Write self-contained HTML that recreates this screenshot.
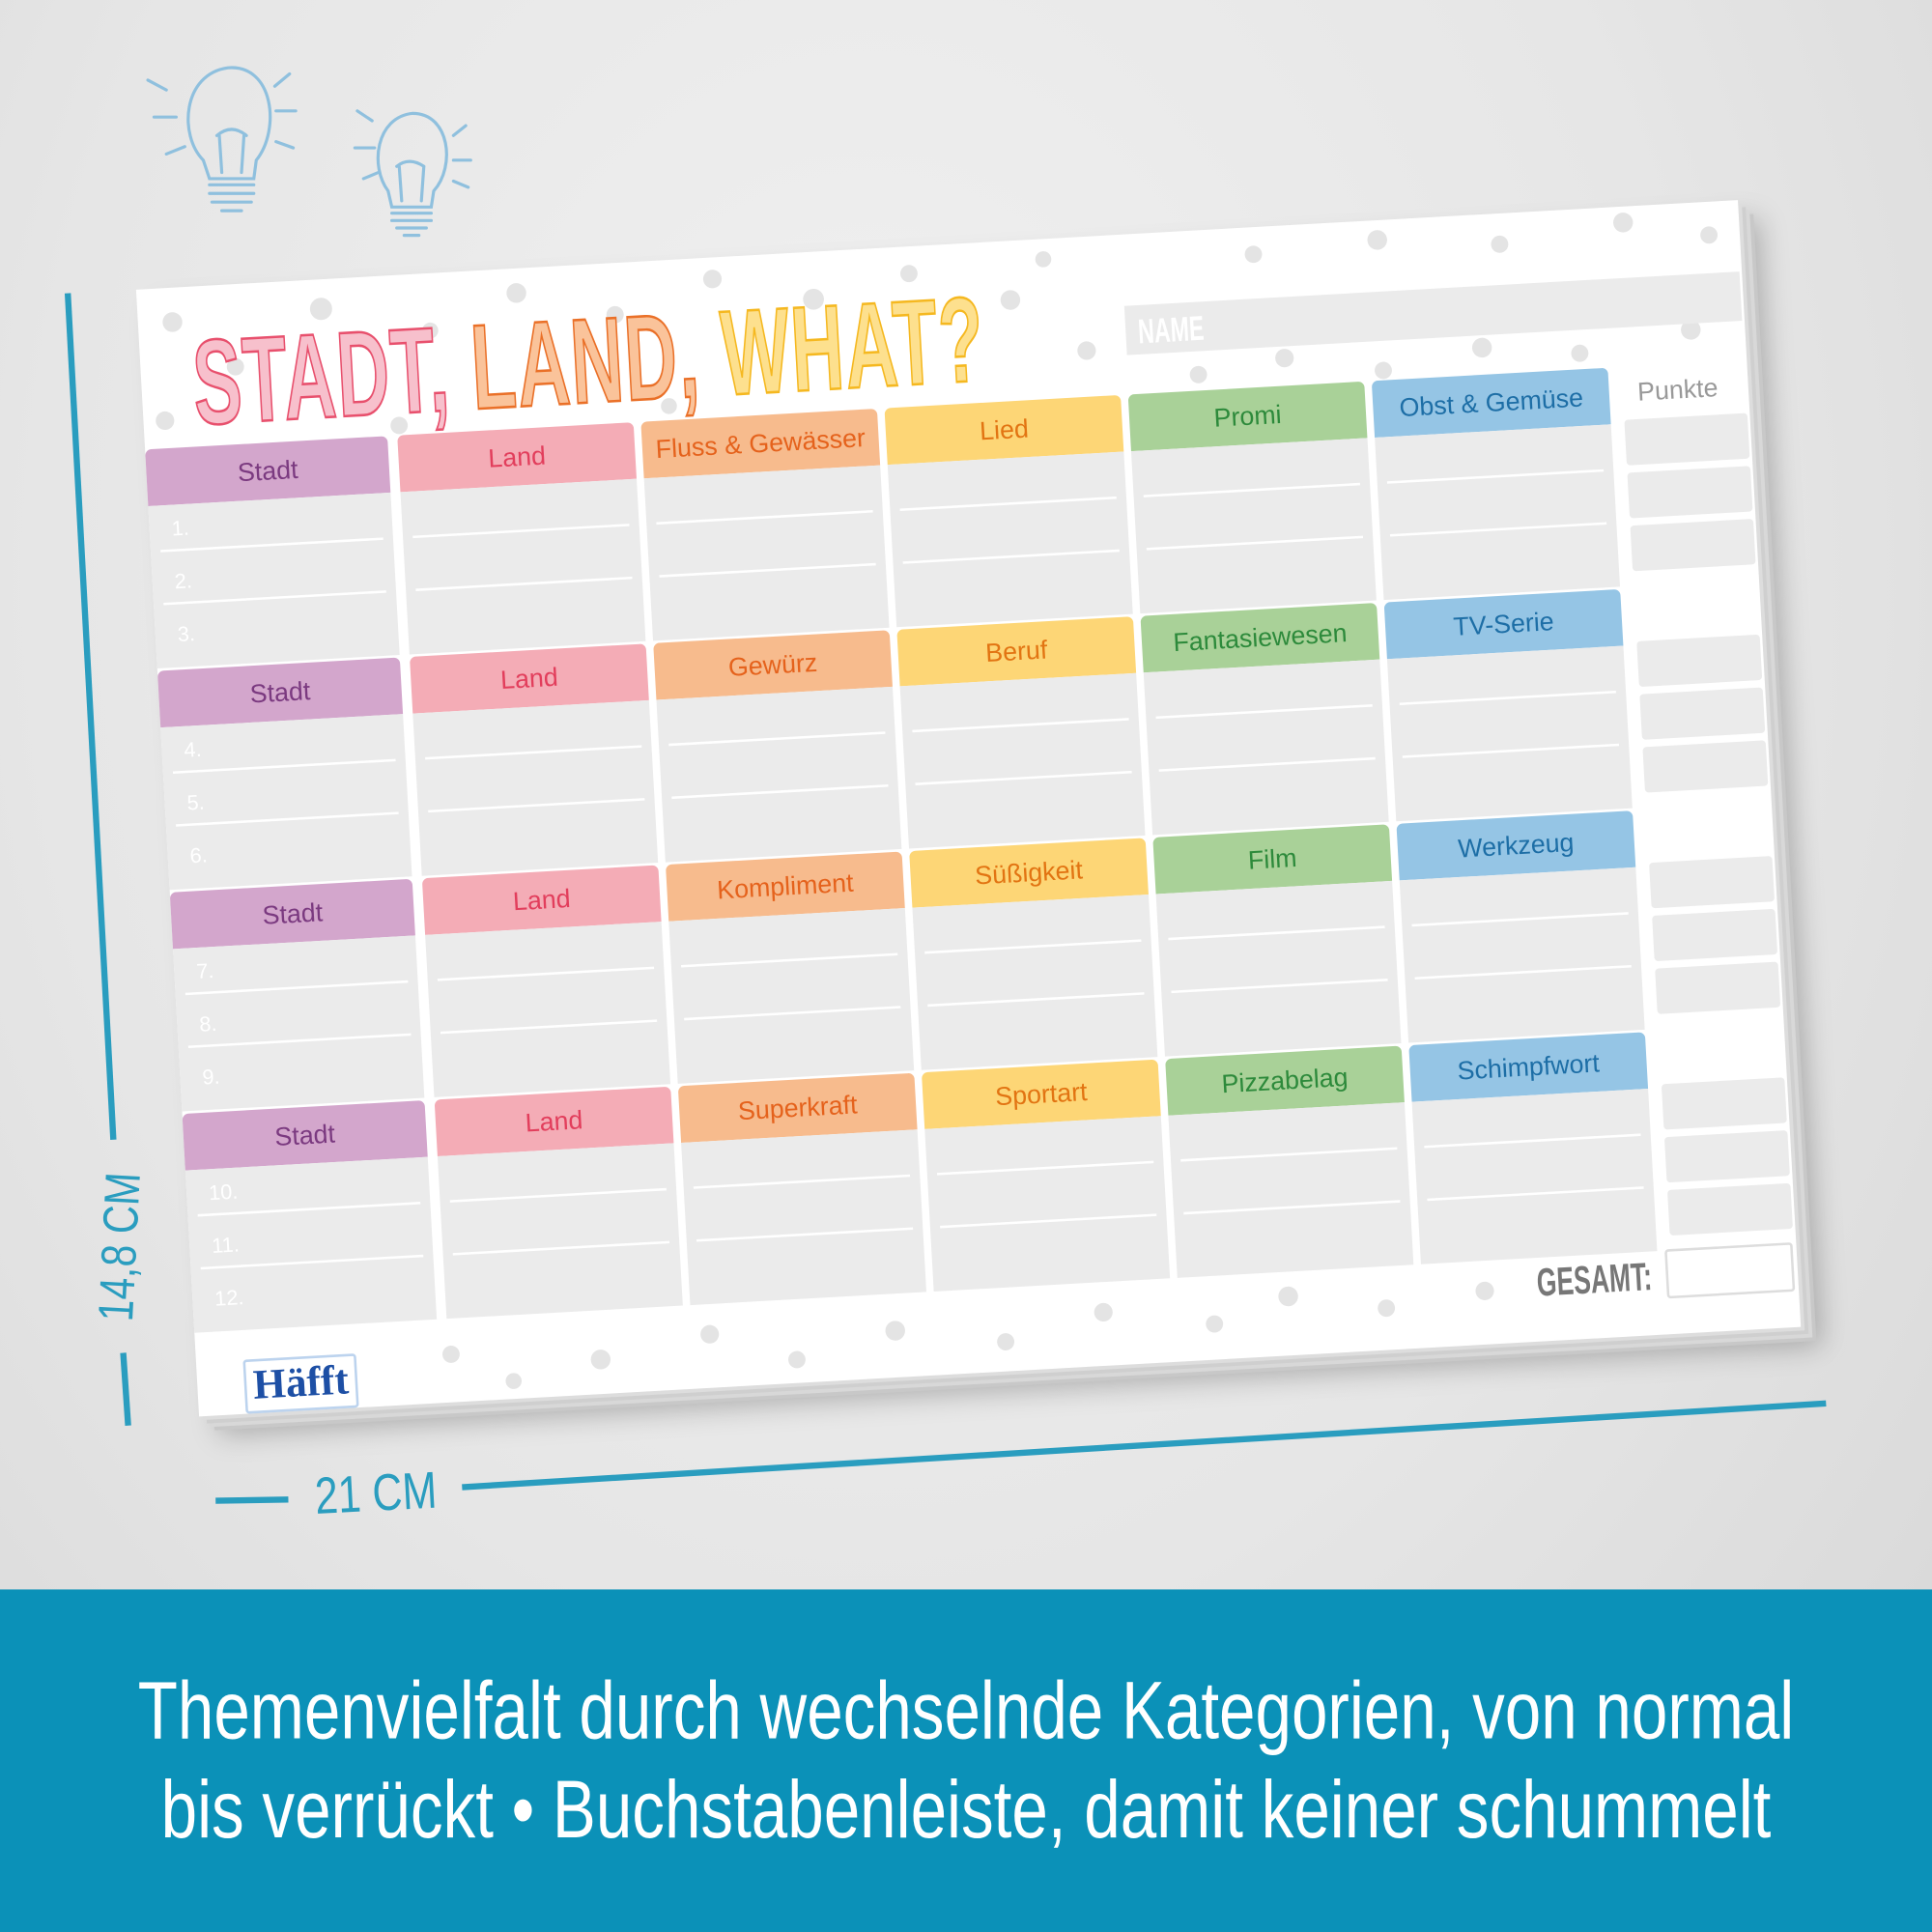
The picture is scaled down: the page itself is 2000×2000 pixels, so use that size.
<!DOCTYPE html>
<html><head><meta charset="utf-8"><style>
html,body{margin:0;padding:0;width:2000px;height:2000px;overflow:hidden;}
#root{position:absolute;left:0;top:0;width:1568px;height:1568px;transform:scale(1.27551);transform-origin:0 0;font-family:"Liberation Sans",sans-serif;
background:radial-gradient(ellipse at 45% 30%,#f1f1f1 0%,#e6e6e6 55%,#d6d6d6 100%);overflow:hidden;}
.band{position:absolute;left:0;top:1290px;width:1568px;height:278px;background:#0b91b8;}
.bt{position:absolute;left:784px;color:#fff;font-size:66px;white-space:nowrap;transform:translateX(-50%) scaleX(0.8);}
.sheet{position:absolute;left:135px;top:198px;width:1302px;height:916px;transform:rotate(-3.2deg);transform-origin:50% 50%;background:#fff;
box-shadow:3px 3px 0 #ddd,6px 6px 0 #cfcfcf,9px 9px 0 #d8d8d8,12px 12px 0 #c8c8c8,16px 16px 22px rgba(0,0,0,.25);}
.dot{position:absolute;border-radius:50%;background:#e4e4e4;}
.h{position:absolute;height:46px;border-radius:5px 5px 0 0;font-size:21px;text-align:center;line-height:48px;}
.b{position:absolute;height:132px;background:#ebebeb;}
.l{position:absolute;left:8px;right:8px;height:2px;background:#fff;}
.n{position:absolute;left:18px;font-size:17px;color:#fff;}
.p{position:absolute;width:100px;height:37px;background:#ebebeb;border-radius:3px;}
.c1{background:#d3a6cc;color:#7b3a80}.c2{background:#f4acb6;color:#e23e5c}.c3{background:#f7bb8d;color:#e5621c}
.c4{background:#fdd676;color:#e27412}.c5{background:#a9d198;color:#2d8a3b}.c6{background:#95c5e5;color:#1d6ea6}
.title{position:absolute;left:42px;top:22px;font-size:98px;font-weight:bold;white-space:nowrap;transform:scaleX(0.6);transform-origin:0 0;letter-spacing:2px;}
</style></head><body><div id="root">

<svg style="position:absolute;left:110px;top:40px" width="290" height="160" viewBox="0 0 290 160" fill="none" stroke="#8fc0de" stroke-width="2.5" stroke-linecap="round">
<path d="M55 90 C35 70,38 20,75 15 C112 12,118 65,98 90 L96 105 L60 105 Z"/><path d="M60 110h36M60 117h36M62 124h32M70 131h16"/><path d="M70 100 L68 70 M86 100 L88 70 M66 70q12-10 24 0"/>
<path d="M10 25l15 8M15 55h18M25 85l15-6M125 20l-12 10M130 50h-16M128 80l-14-5"/>
<path d="M205 115 C190 95,195 55,225 52 C255 52,260 95,242 115 L240 128 L208 128 Z"/><path d="M208 133h32M208 139h32M212 145h24M218 151h12"/><path d="M216 123 L214 95 M232 123 L234 95 M212 95q10-8 22 0"/>
<path d="M180 50l12 8M178 80h16M185 105l12-5M268 62l-10 8M272 90h-14M270 112l-12-5"/></svg>

<svg style="position:absolute;left:0;top:0" width="1568" height="1290" stroke="#2a9dbf" stroke-width="5" fill="none">
<line x1="55" y1="238" x2="92" y2="925"/><line x1="100" y1="1098" x2="104" y2="1157"/>
<line x1="175" y1="1218" x2="234" y2="1217"/><line x1="375" y1="1207" x2="1482" y2="1139"/>
</svg>
<div style="position:absolute;left:98px;top:1012px;font-size:40px;color:#2a9dbf;transform:translate(-50%,-50%) rotate(-87deg) scaleX(0.8);white-space:nowrap">14,8 CM</div>
<div style="position:absolute;left:305px;top:1212px;font-size:42px;color:#2a9dbf;transform:translate(-50%,-50%) rotate(-3deg) scaleX(0.8);white-space:nowrap">21 CM</div>

<div class="sheet">
<div class="dot" style="left:20px;top:20px;width:16px;height:16px"></div><div class="dot" style="left:70px;top:60px;width:14px;height:14px"></div>
<div class="dot" style="left:140px;top:15px;width:18px;height:18px"></div><div class="dot" style="left:230px;top:40px;width:13px;height:13px"></div>
<div class="dot" style="left:300px;top:12px;width:16px;height:16px"></div><div class="dot" style="left:380px;top:35px;width:14px;height:14px"></div>
<div class="dot" style="left:460px;top:10px;width:15px;height:15px"></div><div class="dot" style="left:540px;top:30px;width:17px;height:17px"></div>
<div class="dot" style="left:620px;top:15px;width:14px;height:14px"></div><div class="dot" style="left:700px;top:40px;width:16px;height:16px"></div>
<div class="dot" style="left:760px;top:85px;width:15px;height:15px"></div><div class="dot" style="left:730px;top:10px;width:13px;height:13px"></div>
<div class="dot" style="left:850px;top:110px;width:14px;height:14px"></div><div class="dot" style="left:920px;top:100px;width:15px;height:15px"></div>
<div class="dot" style="left:1000px;top:115px;width:14px;height:14px"></div><div class="dot" style="left:1080px;top:100px;width:16px;height:16px"></div>
<div class="dot" style="left:1160px;top:110px;width:14px;height:14px"></div><div class="dot" style="left:1250px;top:95px;width:16px;height:16px"></div>
<div class="dot" style="left:900px;top:15px;width:14px;height:14px"></div><div class="dot" style="left:1000px;top:8px;width:16px;height:16px"></div>
<div class="dot" style="left:1100px;top:18px;width:14px;height:14px"></div><div class="dot" style="left:1200px;top:5px;width:16px;height:16px"></div>
<div class="dot" style="left:1270px;top:20px;width:14px;height:14px"></div><div class="dot" style="left:10px;top:100px;width:15px;height:15px"></div>
<div class="dot" style="left:200px;top:115px;width:14px;height:14px"></div><div class="dot" style="left:420px;top:112px;width:13px;height:13px"></div>
<div class="dot" style="left:200px;top:870px;width:14px;height:14px"></div><div class="dot" style="left:320px;top:880px;width:16px;height:16px"></div>
<div class="dot" style="left:410px;top:865px;width:15px;height:15px"></div><div class="dot" style="left:480px;top:890px;width:14px;height:14px"></div>
<div class="dot" style="left:560px;top:870px;width:16px;height:16px"></div><div class="dot" style="left:650px;top:885px;width:14px;height:14px"></div>
<div class="dot" style="left:730px;top:865px;width:15px;height:15px"></div><div class="dot" style="left:820px;top:880px;width:14px;height:14px"></div>
<div class="dot" style="left:880px;top:860px;width:16px;height:16px"></div><div class="dot" style="left:960px;top:875px;width:14px;height:14px"></div>
<div class="dot" style="left:1040px;top:865px;width:15px;height:15px"></div><div class="dot" style="left:250px;top:895px;width:13px;height:13px"></div>

<div class="title"><span style="color:#f7c0cc;-webkit-text-stroke:2px #e8506d">STADT,</span> <span style="color:#fac39a;-webkit-text-stroke:2px #ea7028">LAND,</span> <span style="color:#fde08e;-webkit-text-stroke:2px #f5b820">WHAT?</span></div>
<div style="position:absolute;left:800px;top:58px;width:500px;height:40px;background:#ebebeb"><span style="position:absolute;left:10px;top:6px;color:#fff;font-size:28px;font-weight:bold;transform:scaleX(.65);transform-origin:0 0">NAME</span></div>
<div style="position:absolute;left:1212px;top:140px;color:#999;font-size:21px">Punkte</div>

<div class="h c1" style="left:0;top:130px;width:197px">Stadt</div><div class="b" style="left:0;top:176px;width:197px"><div class="l" style="top:36px"></div><div class="l" style="top:79px"></div><span class="n" style="top:10px">1.</span><span class="n" style="top:53px">2.</span><span class="n" style="top:96px">3.</span></div>
<div class="h c2" style="left:205px;top:130px;width:192px">Land</div><div class="b" style="left:205px;top:176px;width:192px"><div class="l" style="top:36px"></div><div class="l" style="top:79px"></div></div>
<div class="h c3" style="left:403px;top:130px;width:192px">Fluss &amp; Gewässer</div><div class="b" style="left:403px;top:176px;width:192px"><div class="l" style="top:36px"></div><div class="l" style="top:79px"></div></div>
<div class="h c4" style="left:601px;top:130px;width:192px">Lied</div><div class="b" style="left:601px;top:176px;width:192px"><div class="l" style="top:36px"></div><div class="l" style="top:79px"></div></div>
<div class="h c5" style="left:799px;top:130px;width:192px">Promi</div><div class="b" style="left:799px;top:176px;width:192px"><div class="l" style="top:36px"></div><div class="l" style="top:79px"></div></div>
<div class="h c6" style="left:997px;top:130px;width:192px">Obst &amp; Gemüse</div><div class="b" style="left:997px;top:176px;width:192px"><div class="l" style="top:36px"></div><div class="l" style="top:79px"></div></div>
<div class="p" style="left:1200px;top:173px"></div><div class="p" style="left:1200px;top:216px"></div><div class="p" style="left:1200px;top:259px"></div>

<div class="h c1" style="left:0;top:310px;width:197px">Stadt</div><div class="b" style="left:0;top:356px;width:197px"><div class="l" style="top:36px"></div><div class="l" style="top:79px"></div><span class="n" style="top:10px">4.</span><span class="n" style="top:53px">5.</span><span class="n" style="top:96px">6.</span></div>
<div class="h c2" style="left:205px;top:310px;width:192px">Land</div><div class="b" style="left:205px;top:356px;width:192px"><div class="l" style="top:36px"></div><div class="l" style="top:79px"></div></div>
<div class="h c3" style="left:403px;top:310px;width:192px">Gewürz</div><div class="b" style="left:403px;top:356px;width:192px"><div class="l" style="top:36px"></div><div class="l" style="top:79px"></div></div>
<div class="h c4" style="left:601px;top:310px;width:192px">Beruf</div><div class="b" style="left:601px;top:356px;width:192px"><div class="l" style="top:36px"></div><div class="l" style="top:79px"></div></div>
<div class="h c5" style="left:799px;top:310px;width:192px">Fantasiewesen</div><div class="b" style="left:799px;top:356px;width:192px"><div class="l" style="top:36px"></div><div class="l" style="top:79px"></div></div>
<div class="h c6" style="left:997px;top:310px;width:192px">TV-Serie</div><div class="b" style="left:997px;top:356px;width:192px"><div class="l" style="top:36px"></div><div class="l" style="top:79px"></div></div>
<div class="p" style="left:1200px;top:353px"></div><div class="p" style="left:1200px;top:396px"></div><div class="p" style="left:1200px;top:439px"></div>

<div class="h c1" style="left:0;top:490px;width:197px">Stadt</div><div class="b" style="left:0;top:536px;width:197px"><div class="l" style="top:36px"></div><div class="l" style="top:79px"></div><span class="n" style="top:10px">7.</span><span class="n" style="top:53px">8.</span><span class="n" style="top:96px">9.</span></div>
<div class="h c2" style="left:205px;top:490px;width:192px">Land</div><div class="b" style="left:205px;top:536px;width:192px"><div class="l" style="top:36px"></div><div class="l" style="top:79px"></div></div>
<div class="h c3" style="left:403px;top:490px;width:192px">Kompliment</div><div class="b" style="left:403px;top:536px;width:192px"><div class="l" style="top:36px"></div><div class="l" style="top:79px"></div></div>
<div class="h c4" style="left:601px;top:490px;width:192px">Süßigkeit</div><div class="b" style="left:601px;top:536px;width:192px"><div class="l" style="top:36px"></div><div class="l" style="top:79px"></div></div>
<div class="h c5" style="left:799px;top:490px;width:192px">Film</div><div class="b" style="left:799px;top:536px;width:192px"><div class="l" style="top:36px"></div><div class="l" style="top:79px"></div></div>
<div class="h c6" style="left:997px;top:490px;width:192px">Werkzeug</div><div class="b" style="left:997px;top:536px;width:192px"><div class="l" style="top:36px"></div><div class="l" style="top:79px"></div></div>
<div class="p" style="left:1200px;top:533px"></div><div class="p" style="left:1200px;top:576px"></div><div class="p" style="left:1200px;top:619px"></div>

<div class="h c1" style="left:0;top:670px;width:197px">Stadt</div><div class="b" style="left:0;top:716px;width:197px"><div class="l" style="top:36px"></div><div class="l" style="top:79px"></div><span class="n" style="top:10px">10.</span><span class="n" style="top:53px">11.</span><span class="n" style="top:96px">12.</span></div>
<div class="h c2" style="left:205px;top:670px;width:192px">Land</div><div class="b" style="left:205px;top:716px;width:192px"><div class="l" style="top:36px"></div><div class="l" style="top:79px"></div></div>
<div class="h c3" style="left:403px;top:670px;width:192px">Superkraft</div><div class="b" style="left:403px;top:716px;width:192px"><div class="l" style="top:36px"></div><div class="l" style="top:79px"></div></div>
<div class="h c4" style="left:601px;top:670px;width:192px">Sportart</div><div class="b" style="left:601px;top:716px;width:192px"><div class="l" style="top:36px"></div><div class="l" style="top:79px"></div></div>
<div class="h c5" style="left:799px;top:670px;width:192px">Pizzabelag</div><div class="b" style="left:799px;top:716px;width:192px"><div class="l" style="top:36px"></div><div class="l" style="top:79px"></div></div>
<div class="h c6" style="left:997px;top:670px;width:192px">Schimpfwort</div><div class="b" style="left:997px;top:716px;width:192px"><div class="l" style="top:36px"></div><div class="l" style="top:79px"></div></div>
<div class="p" style="left:1200px;top:713px"></div><div class="p" style="left:1200px;top:756px"></div><div class="p" style="left:1200px;top:799px"></div>

<div style="position:absolute;left:1090px;top:850px;font-size:32px;font-weight:bold;color:#777;transform:scaleX(.65);transform-origin:0 0">GESAMT:</div>
<div style="position:absolute;left:1195px;top:847px;width:104px;height:40px;border:2px solid #ddd;box-sizing:border-box;border-radius:3px"></div>
<div style="position:absolute;left:38px;top:872px;width:88px;height:40px;border:2px solid #bcd3ee;border-radius:3px;font-size:34px;font-weight:bold;color:#1d4fa5;line-height:40px;text-align:center;font-family:'Liberation Serif',serif">Häfft</div>
</div>

<div class="band">
<div class="bt" style="top:60px">Themenvielfalt durch wechselnde Kategorien, von normal</div>
<div class="bt" style="top:140px">bis verrückt • Buchstabenleiste, damit keiner schummelt</div>
</div>
</div></body></html>
